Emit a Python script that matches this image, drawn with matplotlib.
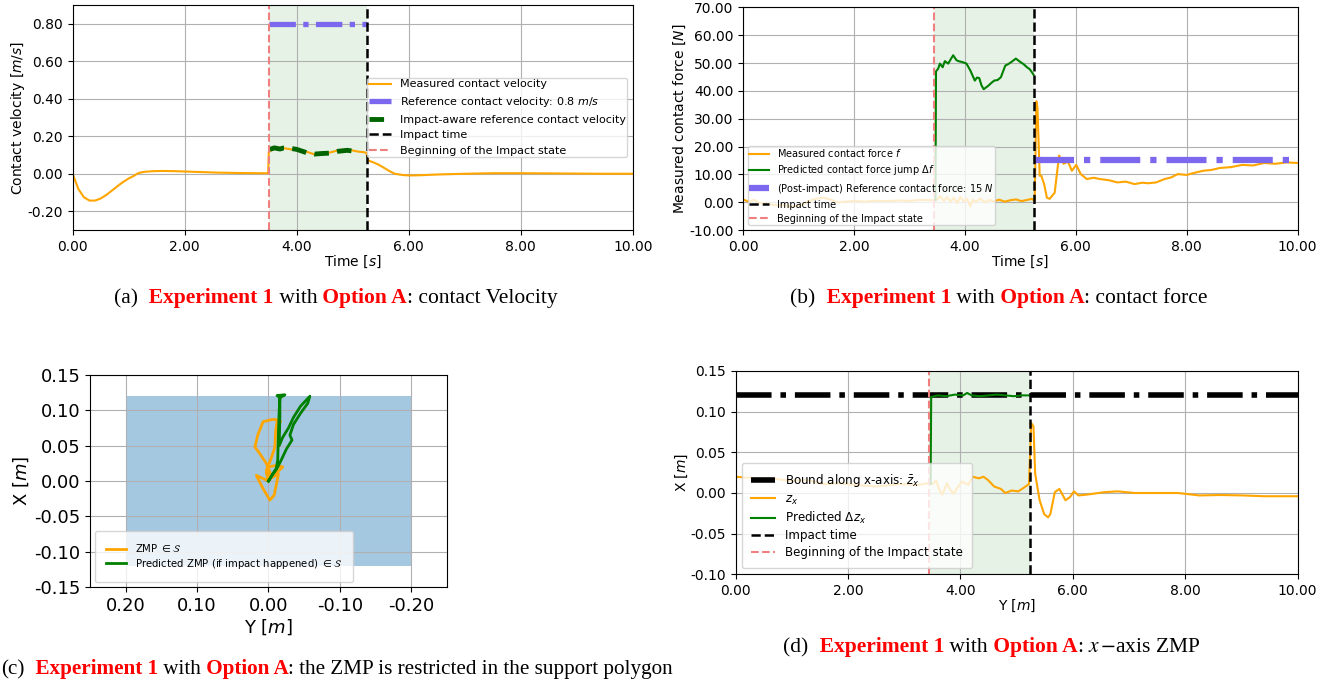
import numpy as np
import matplotlib
matplotlib.use('Agg')
import matplotlib.pyplot as plt
from matplotlib.ticker import FormatStrFormatter
from matplotlib.patches import Rectangle
from matplotlib.offsetbox import TextArea, HPacker, AnchoredOffsetbox

plt.rcParams['axes.unicode_minus'] = False

# ---------------- (a) contact velocity ----------------
t_vel = [0.0, 0.1, 0.2, 0.3, 0.4, 0.5, 0.6, 0.7, 0.8, 0.9, 1.0, 1.1, 1.15, 1.2, 1.3,
         1.45, 1.6, 1.8, 2.0, 2.3, 2.6, 3.0, 3.3, 3.49, 3.5, 3.55, 3.6, 3.7, 3.8, 3.9,
         4.0, 4.1, 4.2, 4.3, 4.4, 4.5, 4.6, 4.7, 4.8, 4.9, 5.0, 5.1, 5.2, 5.24, 5.28,
         5.35, 5.45, 5.55, 5.65, 5.75, 5.9, 6.0, 6.2, 6.5, 7.0, 7.5, 8.0, 8.5, 9.0,
         9.5, 10.0]
v_meas = [0.0, -0.08, -0.125, -0.143, -0.143, -0.132, -0.113, -0.09, -0.066, -0.044,
          -0.025, -0.01, 0.0, 0.006, 0.011, 0.014, 0.015, 0.014, 0.012, 0.009, 0.006,
          0.004, 0.003, 0.003, 0.115, 0.128, 0.133, 0.14, 0.135, 0.13, 0.13, 0.125,
          0.115, 0.105, 0.102, 0.108, 0.114, 0.122, 0.127, 0.128, 0.124, 0.118, 0.115,
          0.112, 0.07, 0.063, 0.05, 0.033, 0.015, 0.0, -0.007, -0.009, -0.008, -0.004,
          0.0, 0.003, 0.003, 0.002, 0.001, 0.0, 0.0]
t_vref = [3.5, 5.25]
v_ref = [0.8, 0.8]
t_aware = [3.52, 3.6, 3.7, 3.76, 3.9, 4.0, 4.1, 4.17, 4.32, 4.45, 4.59, 4.74, 4.9, 5.04]
v_aware = [0.13, 0.138, 0.132, 0.137, 0.135, 0.13, 0.12, 0.113, 0.105, 0.108, 0.11,
           0.12, 0.125, 0.12]
t_begin_a = 3.5
t_impact_a = 5.25

# ---------------- (b) contact force ----------------
t_force = [0.0, 0.1, 0.2, 0.3, 0.4, 0.53, 0.65, 0.75, 0.84, 0.95, 1.07, 1.18, 1.3,
           1.46, 1.58, 1.7, 1.85, 2.0, 2.2, 2.4, 2.6, 2.8, 3.0, 3.2, 3.45, 3.5, 3.56,
           3.62, 3.68, 3.74, 3.8, 3.86, 3.92, 3.98, 4.04, 4.1, 4.14, 4.2, 4.28, 4.36,
           4.44, 4.52, 4.62, 4.72, 4.82, 4.92, 5.02, 5.12, 5.21, 5.26, 5.29, 5.31,
           5.35, 5.38, 5.43, 5.48, 5.53, 5.62, 5.7, 5.78, 5.86, 5.93, 6.01, 6.09, 6.2,
           6.32, 6.44, 6.6, 6.75, 6.9, 7.06, 7.2, 7.3, 7.45, 7.6, 7.72, 7.84, 8.0, 8.15,
           8.3, 8.45, 8.6, 8.8, 9.0, 9.2, 9.4, 9.6, 9.8, 10.0]
f_meas = [1.0, 0.2, 0.8, -0.3, -0.5, -0.9, -1.2, -1.0, -1.7, -1.4, -0.9, 0.3, 1.2,
          1.6, 0.9, 0.0, 0.2, 0.4, 0.2, 0.5, 0.4, 0.6, 0.5, 0.8, 0.7, 1.0, 2.2, 0.4,
          1.8, 0.2, 1.6, -0.3, 1.9, 0.3, 1.2, -1.5, 0.9, 0.1, 1.3, 0.0, 0.8, 0.3, 0.9,
          0.2, 0.7, 1.0, 0.4, 0.8, 1.2, 0.4, 36.3, 34.0, 9.5, 9.5, 6.5, 1.6, 1.2,
          3.4, 16.8, 13.8, 14.6, 11.3, 13.4, 10.1, 8.3, 8.8, 8.3, 7.9, 7.1, 7.4, 6.5,
          7.0, 6.8, 7.1, 8.3, 8.9, 10.1, 9.8, 10.6, 11.3, 11.6, 12.3, 12.6, 13.4, 13.2,
          14.1, 13.8, 14.3, 14.1]
t_jump = [3.47, 3.48, 3.52, 3.55, 3.6, 3.64, 3.7, 3.75, 3.79, 3.85, 3.9, 3.95, 4.03,
          4.1, 4.18, 4.22, 4.26, 4.3, 4.34, 4.38, 4.42, 4.48, 4.53, 4.59, 4.65, 4.69,
          4.73, 4.78, 4.84, 4.92, 5.0, 5.06, 5.12, 5.17, 5.21, 5.24]
f_jump = [0.7, 47.0, 48.0, 49.8, 48.5, 50.7, 49.8, 51.5, 52.8, 51.0, 50.6, 50.4, 49.8,
          47.3, 43.7, 44.8, 44.6, 42.0, 40.6, 41.2, 41.8, 42.9, 43.7, 43.9, 44.9, 47.0,
          49.1, 49.6, 50.4, 51.6, 50.4, 49.6, 48.5, 47.8, 46.7, 45.8]
t_fref = [5.25, 10.0]
f_ref = [15.0, 15.0]
t_begin_b = 3.45
t_impact_b = 5.25

# ---------------- (c) ZMP in the support polygon ----------------
zmp_y = [0.0, 0.003, 0.0, -0.01, -0.02, -0.012, -0.004, 0.0, 0.017, 0.008, -0.002,
         -0.008, -0.012, -0.014, -0.005, 0.003, 0.013, 0.019, 0.015, 0.0075, -0.005,
         -0.011, -0.017, -0.012, -0.01, -0.009, -0.003, 0.003, -0.005, -0.012, 0.0]
zmp_x = [0.0, 0.012, 0.02, 0.022, 0.02, 0.012, 0.006, 0.0, 0.008, -0.01, -0.027,
         -0.02, 0.0, 0.01, 0.005, 0.025, 0.04, 0.048, 0.065, 0.084, 0.087, 0.087,
         0.084, 0.084, 0.07, 0.048, 0.03, 0.015, 0.005, 0.015, 0.0]
pred_y = [0.0, -0.006, -0.011, -0.013, -0.014, -0.015, -0.016, -0.012, -0.023,
          -0.016, -0.016, -0.015, -0.02, -0.028, -0.035, -0.045, -0.058, -0.055,
          -0.045, -0.035, -0.03, -0.033, -0.025, -0.018, -0.013, -0.01, -0.005, 0.0]
pred_x = [0.0, 0.01, 0.018, 0.03, 0.07, 0.1, 0.118, 0.121, 0.122, 0.118, 0.09, 0.05,
          0.062, 0.075, 0.09, 0.106, 0.12, 0.11, 0.096, 0.08, 0.065, 0.058, 0.045,
          0.03, 0.02, 0.015, 0.008, 0.0]
poly_y = [0.2, -0.2]
poly_x = [-0.12, 0.12]

# ---------------- (d) x-axis ZMP ----------------
t_zx = [0.0, 0.17, 0.5, 0.75, 0.96, 1.27, 1.57, 1.88, 2.11, 2.5, 2.95, 3.25, 3.42,
        3.5, 3.57, 3.63, 3.68, 3.76, 3.81, 3.88, 3.95, 4.03, 4.14, 4.22, 4.33, 4.41,
        4.49, 4.6, 4.72, 4.8, 4.91, 5.03, 5.14, 5.22, 5.26, 5.3, 5.33, 5.37, 5.41,
        5.49, 5.56, 5.6, 5.68, 5.76, 5.87, 5.95, 6.02, 6.1, 6.25, 6.56, 6.8, 7.1,
        7.48, 7.87, 8.25, 8.63, 9.02, 9.4, 9.7, 10.0]
z_x = [0.02, 0.019, 0.018, 0.017, 0.015, 0.016, 0.011, 0.012, 0.01, 0.008, 0.011,
       0.01, 0.012, 0.011, 0.015, 0.003, -0.002, 0.012, 0.005, -0.001, 0.007, 0.014,
       0.01, 0.02, 0.018, 0.02, 0.016, 0.008, 0.005, 0.0, 0.003, 0.002, 0.007, 0.011,
       0.086, 0.082, 0.024, 0.007, -0.009, -0.026, -0.03, -0.026, 0.001, 0.005,
       -0.009, -0.005, 0.002, -0.003, -0.002, 0.001, 0.002, 0.0, 0.0, 0.0, -0.003,
       -0.0025, -0.003, -0.004, -0.004, -0.004]
t_dz = [3.47, 3.48, 3.6, 3.75, 3.9, 4.05, 4.12, 4.2, 4.35, 4.5, 4.65, 4.8, 4.95, 5.1,
        5.23]
dz_x = [0.011, 0.118, 0.12, 0.119, 0.121, 0.12, 0.123, 0.12, 0.119, 0.12, 0.121, 0.12,
        0.119, 0.12, 0.12]
t_bound = [0.0, 10.0]
z_bound = [0.12, 0.12]
t_begin_d = 3.45
t_impact_d = 5.23

ORANGE = 'orange'
REF_BLUE = 'mediumslateblue'
PINK = 'lightcoral'


def style_time_axis(ax, yticks, xlabel, ylabel):
    ax.set_xlim(0, 10)
    ax.set_xticks([0, 2, 4, 6, 8, 10])
    ax.set_yticks(yticks)
    ax.xaxis.set_major_formatter(FormatStrFormatter('%.2f'))
    ax.yaxis.set_major_formatter(FormatStrFormatter('%.2f'))
    ax.tick_params(labelsize=10)
    ax.grid(True)
    ax.set_xlabel(xlabel, fontsize=10, labelpad=0)
    ax.set_ylabel(ylabel, fontsize=10, labelpad=0.5)


fig = plt.figure(figsize=(13.33, 6.86), dpi=100)

# ---- (a)
ax = fig.add_axes([0.0545, 0.6647, 0.4203, 0.328])
ax.axvspan(t_begin_a, t_impact_a, color='green', alpha=0.1, lw=0)
ax.plot(t_vel, v_meas, color=ORANGE, lw=1.5, label='Measured contact velocity')
ax.plot(t_vref, v_ref, color=REF_BLUE, lw=3.8, dashes=(5, 1.4, 1, 1.4),
        label='Reference contact velocity: 0.8 $m/s$')
ax.plot(t_aware, v_aware, color='darkgreen', lw=3.5, dashes=(3.0, 1.7),
        label='Impact-aware reference contact velocity')
ax.axvline(t_impact_a, color='black', ls='--', lw=1.8, label='Impact time')
ax.axvline(t_begin_a, color=PINK, ls='--', lw=1.5, label='Beginning of the Impact state')
ax.set_ylim(-0.3, 0.9)
style_time_axis(ax, [-0.2, 0.0, 0.2, 0.4, 0.6, 0.8], 'Time [$s$]', 'Contact velocity [$m/s$]')
ax.legend(loc='center right', fontsize=8.0, labelspacing=0.5, borderpad=0.15)

# ---- (b)
ax = fig.add_axes([0.5574, 0.6647, 0.416, 0.3245])
ax.axvspan(t_begin_b, t_impact_b, color='green', alpha=0.1, lw=0)
ax.plot(t_force, f_meas, color=ORANGE, lw=1.5, label='Measured contact force $f$')
ax.plot(t_jump, f_jump, color='green', lw=1.5, label=r'Predicted contact force jump $\Delta f$')
ax.plot(t_fref, f_ref, color=REF_BLUE, lw=4.5, ls='-.',
        label='(Post-impact) Reference contact force: 15 $N$')
ax.axvline(t_impact_b, color='black', ls='--', lw=1.8, label='Impact time')
ax.axvline(t_begin_b, color=PINK, ls='--', lw=1.5, label='Beginning of the Impact state')
ax.set_ylim(-10, 70)
style_time_axis(ax, np.arange(-10, 71, 10), 'Time [$s$]', 'Measured contact force [$N$]')
ax.legend(loc='lower left', fontsize=7.0, labelspacing=0.42, borderpad=0.15)

# ---- (c)
ax = fig.add_axes([0.0675, 0.1443, 0.2678, 0.309])
ax.add_patch(Rectangle((poly_y[0], poly_x[0]), poly_y[1] - poly_y[0], poly_x[1] - poly_x[0],
                       color='tab:blue', alpha=0.4, lw=0))
ax.plot(zmp_y, zmp_x, color=ORANGE, lw=2, label=r'ZMP $\in \mathcal{S}$')
ax.plot(pred_y, pred_x, color='green', lw=2,
        label=r'Predicted ZMP (if impact happened) $\in \mathcal{S}$')
ax.set_xlim(0.25, -0.25)
ax.set_ylim(-0.15, 0.15)
ax.set_xticks([0.2, 0.1, 0.0, -0.1, -0.2])
ax.set_yticks([-0.15, -0.1, -0.05, 0.0, 0.05, 0.1, 0.15])
ax.xaxis.set_major_formatter(FormatStrFormatter('%.2f'))
ax.yaxis.set_major_formatter(FormatStrFormatter('%.2f'))
ax.tick_params(labelsize=13)
ax.grid(True)
ax.set_xlabel('Y [$m$]', fontsize=13, labelpad=2)
ax.set_ylabel('X [$m$]', fontsize=13, labelpad=2)
ax.legend(loc='lower left', fontsize=7.3, labelspacing=0.25, borderpad=1.1)

# ---- (d)
ax = fig.add_axes([0.5518, 0.1628, 0.4217, 0.2964])
ax.axvspan(t_begin_d, t_impact_d, color='green', alpha=0.1, lw=0)
ax.plot(t_bound, z_bound, color='black', lw=4, ls='-.', label=r'Bound along x-axis: $\bar{z}_x$')
ax.plot(t_zx, z_x, color=ORANGE, lw=1.5, label='$z_x$')
ax.plot(t_dz, dz_x, color='green', lw=1.5, label=r'Predicted $\Delta z_x$')
ax.axvline(t_impact_d, color='black', ls='--', lw=1.8, label='Impact time')
ax.axvline(t_begin_d, color=PINK, ls='--', lw=1.5, label='Beginning of the Impact state')
ax.set_ylim(-0.1, 0.15)
style_time_axis(ax, [-0.1, -0.05, 0.0, 0.05, 0.1, 0.15], 'Y [$m$]', 'X [$m$]')
ax.legend(loc='lower left', fontsize=8.6, labelspacing=0.28, borderpad=0.8)


# ---- sub-captions, red bold for experiment and option names
def caption(x, y, parts, loc='center', size=15.5):
    boxes = []
    for txt, red in parts:
        props = dict(family='Liberation Serif', size=size, math_fontfamily='stix',
                     color='red' if red else 'black', weight='bold' if red else 'normal')
        boxes.append(TextArea(txt, textprops=props))
    pack = HPacker(children=boxes, align='baseline', pad=0, sep=0)
    box = AnchoredOffsetbox(loc=loc, child=pack, pad=0, borderpad=0, frameon=False,
                            bbox_to_anchor=(x, y), bbox_transform=fig.transFigure)
    fig.add_artist(box)


caption(336 / 1333, 1 - 298 / 686,
        [('(a)', False), ('  Experiment 1', True), (' with', False), (' Option A', True),
         (': contact Velocity', False)])
caption(999 / 1333, 1 - 298 / 686,
        [('(b)', False), ('  Experiment 1', True), (' with', False), (' Option A', True),
         (': contact force', False)])
caption(673 / 1333, 1 - 669 / 686,
        [('(c)', False), ('  Experiment 1', True), (' with', False), (' Option A', True),
         (': the ZMP is restricted in the support polygon', False)],
        loc='center right', size=15.2)
caption(992 / 1333, 1 - 647 / 686,
        [('(d)', False), ('  Experiment 1', True), (' with', False), (' Option A', True),
         (r': $x\,{-}$axis ZMP', False)])

fig.savefig('out.png', dpi=100)
